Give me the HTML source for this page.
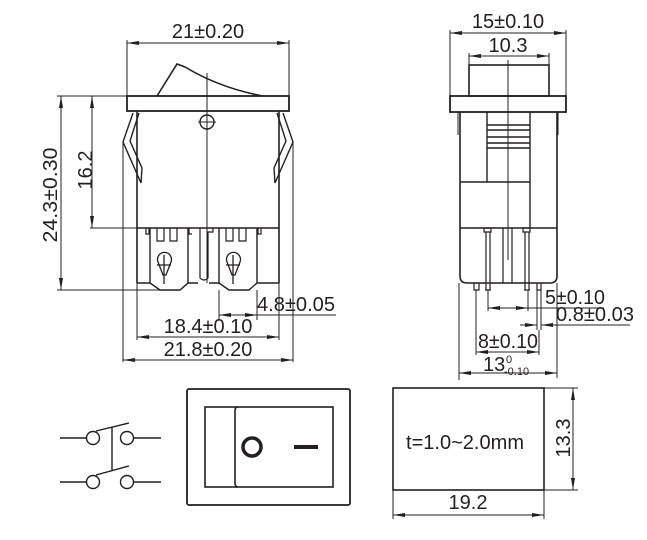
<!DOCTYPE html>
<html><head><style>html,body{margin:0;padding:0;background:#fff}svg{display:block}text{font-family:"Liberation Sans",Arial,sans-serif;fill:#231f20}</style></head>
<body>
<svg width="647" height="540" viewBox="0 0 647 540" xmlns="http://www.w3.org/2000/svg">
<defs>
<marker id="a" viewBox="0 0 12 4" refX="12" refY="2" markerWidth="12" markerHeight="4" markerUnits="userSpaceOnUse" orient="auto-start-reverse"><path d="M0,0 L12,2 L0,4 Z" fill="#231f20"/></marker>
</defs>
<g stroke="#231f20" fill="none" stroke-width="1">
<line x1="127" y1="40" x2="127" y2="96"/><line x1="289" y1="40" x2="289" y2="96"/>
<line x1="127" y1="43" x2="289" y2="43" marker-start="url(#a)" marker-end="url(#a)"/>
<path d="M157,96 L177,64 L185,67 Q220,88 263,96" stroke-width="1.6"/>
<rect x="127" y="96" width="162" height="15" stroke-width="1.8"/>
<line x1="207" y1="73" x2="207" y2="283"/>
<circle cx="207" cy="122" r="7" stroke-width="1.4"/><line x1="198" y1="122" x2="216" y2="122"/>
<path d="M137,111 V283 M279,111 V283" stroke-width="1.6"/>
<line x1="137" y1="228" x2="279" y2="228" stroke-width="1.6"/>
<path d="M133,113 L123,142 L141,183 L142,168 L130,141 L139,113" stroke-width="1.4"/>
<path d="M283,113 L293,142 L275,183 L274,168 L286,141 L277,113" stroke-width="1.4"/>
<path d="M137,283 H150 M188,283 H198 M209,283 H219 M257,283 H279" stroke-width="1.4"/>
<path d="M150,228 V283 L160,290 H180 L188,283 V228" stroke-width="1.4"/>
<path d="M219,228 V283 L229,290 H249 L257,283 V228" stroke-width="1.4"/>
<path d="M200,228 V278 Q204,282 208,278 V232 L213,232 V228" stroke-width="1.2"/>
<path d="M146,228 V234 H149 V228 M157,228 V241 H164 V228 M170,228 V241 H177 V228 M189,228 V234 H192" stroke-width="1.2"/>
<path d="M226,228 V241 H233 V228 M239,228 V241 H246 V228 M258,228 V234 H261 V228" stroke-width="1.2"/>
<path d="M158,262 A7,7 0 1 1 171,262 L166,275 H163 Z M164,255 V284 M157,265 H171" stroke-width="1.3"/>
<path d="M227,262 A7,7 0 1 1 240,262 L235,275 H232 Z M233,255 V284 M226,265 H240" stroke-width="1.3"/>
<line x1="57" y1="96" x2="127" y2="96"/><line x1="57" y1="290" x2="160" y2="290"/>
<line x1="61" y1="96" x2="61" y2="290" marker-start="url(#a)" marker-end="url(#a)"/>
<line x1="90" y1="228" x2="137" y2="228"/>
<line x1="92" y1="96" x2="92" y2="228" marker-start="url(#a)" marker-end="url(#a)"/>
<line x1="219" y1="290" x2="219" y2="320"/><line x1="257" y1="290" x2="257" y2="320"/>
<line x1="219" y1="315" x2="257" y2="315" marker-start="url(#a)" marker-end="url(#a)"/>
<line x1="257" y1="315" x2="336" y2="315"/>
<line x1="137" y1="283" x2="137" y2="340"/><line x1="279" y1="283" x2="279" y2="340"/>
<line x1="137" y1="337" x2="279" y2="337" marker-start="url(#a)" marker-end="url(#a)"/>
<line x1="123" y1="142" x2="123" y2="362"/><line x1="293" y1="142" x2="293" y2="362"/>
<line x1="123" y1="360" x2="293" y2="360" marker-start="url(#a)" marker-end="url(#a)"/>
<line x1="450" y1="30" x2="450" y2="96"/><line x1="566" y1="30" x2="566" y2="96"/>
<line x1="450" y1="33" x2="566" y2="33" marker-start="url(#a)" marker-end="url(#a)"/>
<line x1="469" y1="53" x2="469" y2="65"/><line x1="549" y1="53" x2="549" y2="65"/>
<line x1="469" y1="56" x2="549" y2="56" marker-start="url(#a)" marker-end="url(#a)"/>
<rect x="469" y="65" width="80" height="31" stroke-width="1.6"/>
<rect x="450" y="96" width="116" height="16" stroke-width="1.8"/>
<path d="M460,112 V276 Q460,283 467,283 H550 Q557,283 557,276 V112" stroke-width="1.6"/>
<line x1="458" y1="112" x2="458" y2="135"/><line x1="558" y1="112" x2="558" y2="135"/>
<path d="M487,112 V182 M530,112 V228 M460,182 H530 M460,228 H557" stroke-width="1.4"/>
<path d="M487,125 H530 M487,130 H530 M487,137 H530 M487,143 H530 M487,148 H530" stroke-width="1.5"/>
<line x1="508" y1="60" x2="508" y2="260"/>
<path d="M503,228 V283 M512,228 V283" stroke-width="1.2"/>
<path d="M484,228 H491 V232 H484 Z M486,232 V290 M490,232 V290 M485,290 H491" stroke-width="1.2"/>
<path d="M523,228 H530 V232 H523 Z M525,232 V290 M529,232 V290 M524,290 H530" stroke-width="1.2"/>
<path d="M474,283 V290 H479 V283 M537,283 V290 H541 V283" stroke-width="1.2"/>
<line x1="488" y1="290" x2="488" y2="311"/><line x1="528" y1="290" x2="528" y2="311"/>
<line x1="488" y1="308" x2="528" y2="308" marker-start="url(#a)" marker-end="url(#a)"/>
<line x1="528" y1="308" x2="604" y2="308"/>
<line x1="537" y1="290" x2="537" y2="330"/><line x1="541" y1="290" x2="541" y2="330"/>
<line x1="520" y1="325" x2="537" y2="325" marker-end="url(#a)"/>
<line x1="630" y1="325" x2="541" y2="325" marker-end="url(#a)"/>
<line x1="476" y1="290" x2="476" y2="355"/><line x1="539" y1="330" x2="539" y2="355"/>
<line x1="476" y1="352" x2="539" y2="352" marker-start="url(#a)" marker-end="url(#a)"/>
<line x1="459" y1="283" x2="459" y2="380"/><line x1="557" y1="283" x2="557" y2="378"/>
<line x1="459" y1="373" x2="557" y2="373" marker-start="url(#a)" marker-end="url(#a)"/>
<path d="M60,438 H87 M134,438 H161 M60,482 H87 M134,482 H161" stroke-width="1.4"/>
<circle cx="93" cy="438" r="6.5" stroke-width="1.4"/><circle cx="127" cy="438" r="6.5" stroke-width="1.4"/>
<circle cx="93" cy="482" r="6.5" stroke-width="1.4"/><circle cx="127" cy="482" r="6.5" stroke-width="1.4"/>
<path d="M96,431 L129,423 M96,475 L129,466 M112,427 V471" stroke-width="1.4"/>
<rect x="187" y="389" width="163" height="116" rx="2" stroke-width="1.8"/>
<rect x="205" y="407" width="128" height="80" stroke-width="1.6"/>
<path d="M238,407 Q235,407 235,411 V483 Q235,487 238,487" stroke-width="1.6"/>
<circle cx="252" cy="447" r="9" stroke-width="3.5"/>
<line x1="294" y1="447" x2="318" y2="447" stroke-width="4"/>
<rect x="393" y="388" width="151" height="102" stroke-width="1.6"/>
<line x1="544" y1="388" x2="578" y2="388"/><line x1="544" y1="490" x2="578" y2="490"/>
<line x1="573" y1="388" x2="573" y2="490" marker-start="url(#a)" marker-end="url(#a)"/>
<line x1="393" y1="490" x2="393" y2="519"/><line x1="544" y1="490" x2="544" y2="519"/>
<line x1="393" y1="515" x2="544" y2="515" marker-start="url(#a)" marker-end="url(#a)"/>
</g>
<g font-size="20">
<text x="208" y="38" text-anchor="middle">21±0.20</text>
<text transform="translate(57,195) rotate(-90)" text-anchor="middle" textLength="95" lengthAdjust="spacingAndGlyphs">24.3±0.30</text>
<text transform="translate(92,170) rotate(-90)" text-anchor="middle">16.2</text>
<text x="257" y="311" textLength="78" lengthAdjust="spacingAndGlyphs">4.8±0.05</text>
<text x="208" y="333" text-anchor="middle">18.4±0.10</text>
<text x="208" y="356" text-anchor="middle">21.8±0.20</text>
<text x="508" y="28" text-anchor="middle">15±0.10</text>
<text x="508" y="52" text-anchor="middle">10.3</text>
<text x="545" y="304" textLength="60" lengthAdjust="spacingAndGlyphs">5±0.10</text>
<text x="556" y="321" textLength="78" lengthAdjust="spacingAndGlyphs">0.8±0.03</text>
<text x="478" y="348" textLength="60" lengthAdjust="spacingAndGlyphs">8±0.10</text>
<text x="483" y="371">13</text>
<text x="506" y="363" font-size="11">0</text>
<text x="504" y="375" font-size="11">-0.10</text>
<text x="465" y="449" text-anchor="middle" textLength="118" lengthAdjust="spacingAndGlyphs">t=1.0~2.0mm</text>
<text transform="translate(570,438) rotate(-90)" text-anchor="middle">13.3</text>
<text x="468" y="509" text-anchor="middle">19.2</text>
</g>
</svg>
</body></html>
